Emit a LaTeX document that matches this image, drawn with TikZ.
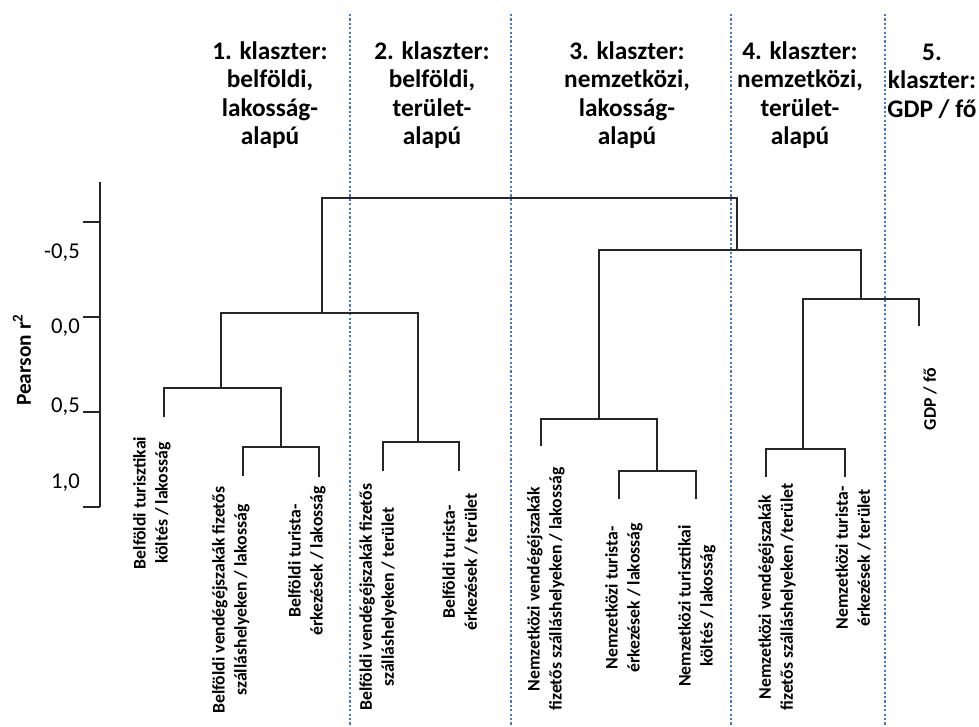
\documentclass[tikz,border=0pt]{standalone}
\usepackage{fontspec}
\setmainfont{Carlito}
\definecolor{dotblue}{RGB}{68,120,200}
\begin{document}
\begin{tikzpicture}[x=0.75pt,y=-0.75pt,
  tree/.style={line width=1.3pt, black!85},
  sep/.style={dotblue, line width=2pt, dash pattern=on 1.6pt off 1.7pt},
  head/.style={font=\fontsize{19}{21.4}\selectfont\bfseries, align=center},
  leaf/.style={font=\fontsize{13.3}{16.5}\selectfont\bfseries, align=center, rotate=90},
  ticklab/.style={font=\fontsize{17}{20}\selectfont, anchor=east, inner sep=0pt}]
\useasboundingbox (0,0) rectangle (979,727);

\draw[sep] (350,14)--(350,727);
\draw[sep] (511,14)--(511,727);
\draw[sep] (731,14)--(731,727);
\draw[sep] (885,14)--(885,727);

\node[head] (h1) at (270,95) {1. klaszter:\\belföldi,\\lakosság-\\alapú};
\node[head] (h2) at (432,95) {2. klaszter:\\belföldi,\\terület-\\alapú};
\node[head] (h3) at (627,95) {3. klaszter:\\nemzetközi,\\lakosság-\\alapú};
\node[head] (h4) at (800,95) {4. klaszter:\\nemzetközi,\\terület-\\alapú};
\node[head] (h5) at (932,81) {5.\\klaszter:\\GDP / fő};

\coordinate (ytop) at (100,182);
\coordinate (ybot) at (100,507);
\draw[tree] (ytop)--(ybot);
\foreach \y/\n in {222/a,317/b,412/c,507/d}{
  \coordinate (tk\n) at (100,\y);
  \draw[tree] (tk\n)--++(-17,0);
}
\node[ticklab] (v1) at (80,253) {-0,5};
\node[ticklab] (v2) at (80,328) {0,0};
\node[ticklab] (v3) at (80,407) {0,5};
\node[ticklab] (v4) at (80,483) {1,0};
\node[font=\fontsize{16}{18}\selectfont\bfseries, rotate=90] (ylab) at (22,360) {Pearson r\textsuperscript{2}};

\coordinate (l1) at (164,417);
\coordinate (l2) at (243,476);
\coordinate (l3) at (319,477);
\coordinate (l4) at (383,471);
\coordinate (l5) at (459,471);
\coordinate (l6) at (541,446);
\coordinate (l7) at (619,499);
\coordinate (l8) at (696,499);
\coordinate (l9) at (766,477);
\coordinate (l10) at (845,477);
\coordinate (l11) at (919,326);

\coordinate (m1) at (281,447);
\coordinate (m2) at (221,388);
\coordinate (m3) at (418,442);
\coordinate (m4) at (322,313);
\coordinate (m5) at (657,471);
\coordinate (m6) at (599,419);
\coordinate (m7) at (803,449);
\coordinate (m8) at (861,299);
\coordinate (m9) at (737,250);
\coordinate (m10) at (530,198);

\draw[tree] (l2) |- (m1) -| (l3);
\draw[tree] (l1) |- (m2) -| (m1);
\draw[tree] (l4) |- (m3) -| (l5);
\draw[tree] (m2) |- (m4) -| (m3);
\draw[tree] (l7) |- (m5) -| (l8);
\draw[tree] (l6) |- (m6) -| (m5);
\draw[tree] (l9) |- (m7) -| (l10);
\draw[tree] (m7) |- (m8) -| (l11);
\draw[tree] (m6) |- (m9) -| (m8);
\draw[tree] (m4) |- (m10) -| (m9);

\node[leaf] (t1) at (152,503) {Belföldi turisztikai\\költés / lakosság};
\node[leaf] (t2) at (231,600) {Belföldi vendégéjszakák fizetős\\szálláshelyeken / lakosság};
\node[leaf] (t3) at (307,561) {Belföldi turista-\\érkezések / lakosság};
\node[leaf] (t4) at (378,597) {Belföldi vendégéjszakák fizetős\\szálláshelyeken / terület};
\node[leaf] (t5) at (460,562) {Belföldi turista-\\érkezések / terület};
\node[leaf] (t6) at (546,589) {Nemzetközi vendégéjszakák\\fizetős szálláshelyeken / lakosság};
\node[leaf] (t7) at (624,598) {Nemzetközi turista-\\érkezések / lakosság};
\node[leaf] (t8) at (697,606) {Nemzetközi turisztikai\\költés / lakosság};
\node[leaf] (t9) at (777,597) {Nemzetközi vendégéjszakák\\fizetős szálláshelyeken /terület};
\node[leaf] (t10) at (853,558) {Nemzetközi turista-\\érkezések / terület};
\node[leaf] (t11) at (930,399) {GDP / fő};
\end{tikzpicture}
\end{document}
